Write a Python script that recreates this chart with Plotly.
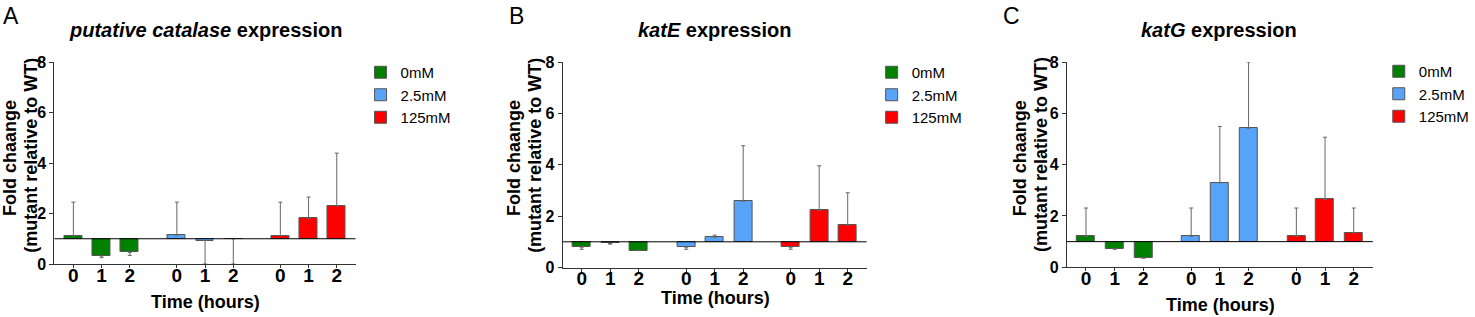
import plotly.graph_objects as go

W, H = 1475, 317

# ---------------- data ----------------
series_names = ["0mM", "2.5mM", "125mM"]
time_labels = ["0", "1", "2"]
series_colors = ["#008000", "#56a3f8", "#ff0000"]

# Panel A - putative catalase (bar value, error-bar end)
a_0mM = [1.12, 0.32, 0.46]
a_0mM_err = [2.45, 0.25, 0.34]
a_2_5mM = [1.14, 0.93, 1.00]
a_2_5mM_err = [2.45, 0.00, 0.00]
a_125mM = [1.12, 1.81, 2.30]
a_125mM_err = [2.45, 2.65, 4.39]

# Panel B - katE
b_0mM = [0.79, 0.935, 0.66]
b_0mM_err = [0.71, 0.91, 0.66]
b_2_5mM = [0.79, 1.18, 2.58]
b_2_5mM_err = [0.71, 1.26, 4.74]
b_125mM = [0.79, 2.23, 1.65]
b_125mM_err = [0.71, 3.96, 2.91]

# Panel C - katG
c_0mM = [1.21, 0.73, 0.36]
c_0mM_err = [2.31, 0.70, 0.36]
c_2_5mM = [1.21, 3.29, 5.42]
c_2_5mM_err = [2.31, 5.49, 8.00]
c_125mM = [1.21, 2.65, 1.35]
c_125mM_err = [2.31, 5.07, 2.31]

panel_titles = ["<b><i>putative catalase</i> expression</b>",
                "<b><i>katE</i> expression</b>",
                "<b><i>katG</i> expression</b>"]
panel_letters = ["A", "B", "C"]
y_ticks = [0, 2, 4, 6, 8]
baseline = 1

panels = [
    [(a_0mM, a_0mM_err), (a_2_5mM, a_2_5mM_err), (a_125mM, a_125mM_err)],
    [(b_0mM, b_0mM_err), (b_2_5mM, b_2_5mM_err), (b_125mM, b_125mM_err)],
    [(c_0mM, c_0mM_err), (c_2_5mM, c_2_5mM_err), (c_125mM, c_125mM_err)],
]

# ---------------- layout geometry (pixels) ----------------
FONT = "Liberation Sans, Arial, sans-serif"
group_offset = 11 / 3.0
x_range = [-0.67, 10.0]
bar_width = 0.63

# per panel: x-domain px, y0 px (value 0), y8 px (value 8)
geom = [
    dict(x0=55, x1=359, y0=264, y8=62),
    dict(x0=568, x1=875, y0=267.5, y8=62),
    dict(x0=1077, x1=1386, y0=267.3, y8=62),
]
legend_pos = [(364, 56), (880, 56), (1392, 55)]
title_pos = [(207, 30), (721, 30), (1231, 30)]
letter_pos = [(11, 16), (521, 16), (1021, 16)]
ytitle_pos = [((10, 158), (31, 155)), ((519, 158), (540, 155)), ((1030, 158), (1051, 155))]
xtitle_pos = [(207, 302), (722, 298), (1232, 305)]


def px(x):
    return x / W


def py(y):
    return 1 - y / H


fig = go.Figure()

for p, panel in enumerate(panels):
    xa = "x" if p == 0 else f"x{p+1}"
    ya = "y" if p == 0 else f"y{p+1}"
    lg = "legend" if p == 0 else f"legend{p+1}"
    for s, (vals, ends) in enumerate(panel):
        xs = [s * group_offset + t for t in range(len(vals))]
        heights = [v - baseline for v in vals]
        plus = [max(e - v, 0) for v, e in zip(vals, ends)]
        minus = [max(v - e, 0) for v, e in zip(vals, ends)]
        fig.add_trace(go.Bar(
            x=xs, y=heights, base=baseline, width=bar_width,
            name=series_names[s],
            marker=dict(color=series_colors[s], line=dict(color="#555555", width=1)),
            error_y=dict(type="data", symmetric=False, array=plus, arrayminus=minus,
                         color="#666666", thickness=1, width=2),
            xaxis=xa, yaxis=ya, legend=lg, showlegend=True,
        ))

layout = dict(
    width=W, height=H, autosize=False,
    margin=dict(l=0, r=0, t=0, b=0, pad=0),
    paper_bgcolor="white", plot_bgcolor="white",
    template="none",
    font=dict(family=FONT, color="black"),
    bargap=0, barmode="overlay",
)

annotations = []
shapes = []
tick_positions = [s * group_offset + t for s in range(3) for t in range(3)]
tick_text = time_labels * 3

for p in range(3):
    g = geom[p]
    sfx = "" if p == 0 else str(p + 1)
    layout["xaxis" + sfx] = dict(
        domain=[px(g["x0"]), px(g["x1"])], range=x_range,
        anchor="y" + sfx, showgrid=False, zeroline=False,
        showline=True, linecolor="#333333", linewidth=1,
        ticks="outside", ticklen=3, tickcolor="#333333",
        tickvals=tick_positions, ticktext=tick_text,
        ticklabelstandoff=-9,
        tickfont=dict(family=FONT, size=19, weight="bold", color="black"),
        fixedrange=True,
    )
    layout["yaxis" + sfx] = dict(
        domain=[py(g["y0"]), py(g["y8"])], range=[0, 8],
        anchor="x" + sfx, showgrid=False, zeroline=False,
        showline=True, linecolor="#333333", linewidth=1,
        ticks="outside", ticklen=4, tickcolor="#333333",
        tickvals=y_ticks,
        tickfont=dict(family=FONT, size=16, weight="bold", color="black"),
        fixedrange=True,
    )
    lx, ly = legend_pos[p]
    layout["legend" + sfx] = dict(
        x=px(lx), y=py(ly), xanchor="left", yanchor="top",
        font=dict(family=FONT, size=15, color="black"),
        bgcolor="rgba(0,0,0,0)", borderwidth=0, tracegroupgap=0,
    )
    shapes.append(dict(type="line", xref=f"x{sfx} domain", x0=0, x1=1,
                       yref="y" + sfx, y0=baseline, y1=baseline,
                       line=dict(color="black", width=1), layer="above"))
    tx, ty = title_pos[p]
    annotations.append(dict(text=panel_titles[p], x=px(tx), y=py(ty), xref="paper", yref="paper",
                            showarrow=False, xanchor="center", yanchor="middle",
                            font=dict(family=FONT, size=20, color="black")))
    lx2, ly2 = letter_pos[p]
    annotations.append(dict(text=panel_letters[p], x=px(lx2), y=py(ly2), xref="paper", yref="paper",
                            showarrow=False, xanchor="center", yanchor="middle",
                            font=dict(family=FONT, size=23, color="black")))
    (l1x, l1y), (l2x, l2y) = ytitle_pos[p]
    annotations.append(dict(text="<b>Fold chaange</b>", x=px(l1x), y=py(l1y), xref="paper", yref="paper",
                            showarrow=False, xanchor="center", yanchor="middle", textangle=-90,
                            font=dict(family=FONT, size=18, color="black")))
    annotations.append(dict(text="<b>(mutant relative to WT)</b>", x=px(l2x), y=py(l2y), xref="paper",
                            yref="paper", showarrow=False, xanchor="center", yanchor="middle",
                            textangle=-90, font=dict(family=FONT, size=18, color="black")))
    xtx, xty = xtitle_pos[p]
    annotations.append(dict(text="<b>Time (hours)</b>", x=px(xtx), y=py(xty), xref="paper", yref="paper",
                            showarrow=False, xanchor="center", yanchor="middle",
                            font=dict(family=FONT, size=18, color="black")))

layout["annotations"] = annotations
layout["shapes"] = shapes
fig.update_layout(**layout)

fig.write_html("out.html", config={"displayModeBar": False},
               post_script="document.body.style.margin='0';document.body.style.overflow='hidden';")
